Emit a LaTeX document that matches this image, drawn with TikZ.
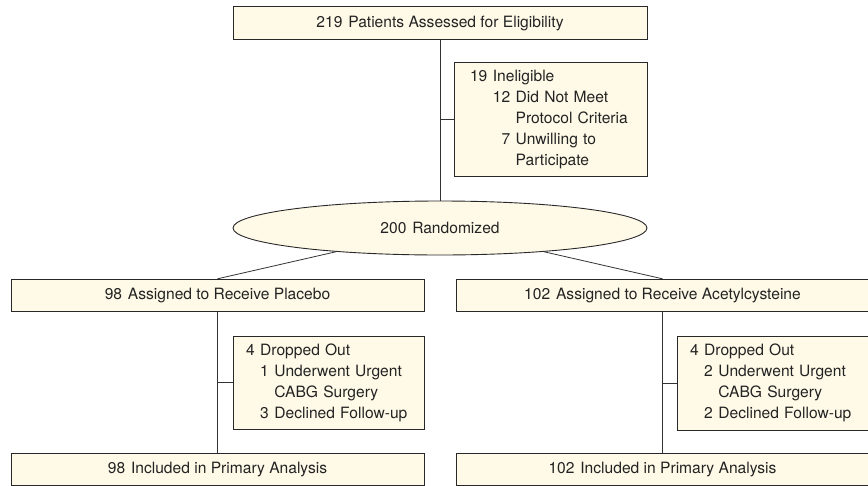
\documentclass[tikz,border=0pt]{standalone}
\usepackage{fontspec}
\setmainfont{TeX Gyre Heros}
\usetikzlibrary{shapes.geometric}
\definecolor{boxfill}{RGB}{255,250,231}
\definecolor{boxline}{RGB}{40,40,40}
\definecolor{txt}{RGB}{35,35,35}

\begin{document}
\begin{tikzpicture}[x=1pt,y=-1pt,
  every node/.style={font=\fontsize{15.6}{21}\selectfont, text=txt},
  mainbox/.style={draw=boxline, fill=boxfill, line width=0.9pt, minimum height=32.5pt, inner sep=0pt},
  sidebox/.style={draw=boxline, fill=boxfill, line width=0.9pt, inner ysep=0pt, align=left},
  randnode/.style={ellipse, draw=boxline, fill=boxfill, line width=0.9pt, minimum width=414pt, minimum height=54pt, inner sep=0pt},
  link/.style={draw=black!80, line width=0.8pt}]

\useasboundingbox (0,0) rectangle (868,485) ;

\node [mainbox, minimum width=414pt] (top) at (440,23) {219\kern1.5pt\ Patients Assessed for Eligibility} ;
\node [sidebox, inner xsep=16pt, text width=161pt, minimum height=114pt] (inelig) at (550.5,119.5)
  {\noindent\begin{tabular}{@{}r@{\hspace{5.5pt}}r@{\hspace{5.5pt}}l@{}}
   19 & \multicolumn{2}{@{}l@{}}{Ineligible}\\
      & 12 & Did Not Meet\\
      &    & Protocol Criteria\\
      & 7  & Unwilling to\\
      &    & Participate
   \end{tabular}} ;
\node [randnode] (rand) at (440,228) {200\kern1.5pt\ Randomized} ;

%placebo arm
\node [mainbox, minimum width=413pt] (placebo) at (217.5,295.5) {98\kern1.5pt\ Assigned to Receive Placebo} ;
\node [sidebox, inner xsep=13pt, text width=165pt, minimum height=93pt] (dropP) at (328.5,382.5)
  {\noindent\begin{tabular}{@{}r@{\hspace{5.5pt}}r@{\hspace{5.5pt}}l@{}}
   4 & \multicolumn{2}{@{}l@{}}{Dropped Out}\\
     & 1 & Underwent Urgent\\
     &   & CABG Surgery\\
     & 3 & Declined Follow-up
   \end{tabular}} ;
\node [mainbox, minimum width=413pt] (analysP) at (217.5,469.5) {98\kern1.5pt\ Included in Primary Analysis} ;

%acetylcysteine arm
\node [mainbox, minimum width=413pt] (acetyl) at (662.5,295.5) {102\kern1.5pt\ Assigned to Receive Acetylcysteine} ;
\node [sidebox, inner xsep=13pt, text width=166pt, minimum height=94pt] (dropA) at (773,383)
  {\noindent\begin{tabular}{@{}r@{\hspace{5.5pt}}r@{\hspace{5.5pt}}l@{}}
   4 & \multicolumn{2}{@{}l@{}}{Dropped Out}\\
     & 2 & Underwent Urgent\\
     &   & CABG Surgery\\
     & 2 & Declined Follow-up
   \end{tabular}} ;
\node [mainbox, minimum width=413pt] (analysA) at (662.5,469.5) {102\kern1.5pt\ Included in Primary Analysis} ;

\coordinate (forkI) at (top.south |- inelig.west) ;
\coordinate (forkP) at (placebo.south |- dropP.west) ;
\coordinate (forkA) at (acetyl.south |- dropA.west) ;

\draw [link] (top) -- (rand) ;
\draw [link] (forkI) -- (inelig.west) ;
\draw [link] (rand) -- (placebo.north) ;
\draw [link] (rand) -- (acetyl.north) ;
\draw [link] (placebo) -- (analysP) ;
\draw [link] (forkP) -- (dropP.west) ;
\draw [link] (acetyl) -- (analysA) ;
\draw [link] (forkA) -- (dropA.west) ;

\end{tikzpicture}
\end{document}
